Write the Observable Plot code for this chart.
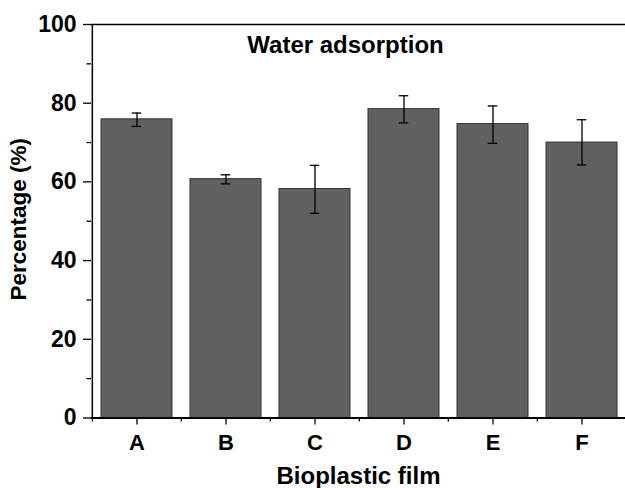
<!DOCTYPE html>
<html>
<head>
<meta charset="utf-8">
<script src="https://cdn.jsdelivr.net/npm/d3@7"></script>
<script src="https://cdn.jsdelivr.net/npm/@observablehq/plot@0.6"></script>
<style>
  html, body { margin: 0; padding: 0; overflow: hidden; background: #fff; }
  #chart svg { display: block; overflow: hidden !important; }
</style>
</head>
<body>
<div id="chart"></div>
<script>
const categories = ["A", "B", "C", "D", "E", "F"];
const values = [75.9, 60.7, 58.2, 78.5, 74.7, 70.0];
const errLow = [74.1, 59.5, 52.0, 75.0, 69.8, 64.3];
const errHigh = [77.5, 61.8, 64.2, 81.9, 79.3, 75.8];
const majorYTicks = [0, 20, 40, 60, 80, 100];
const minorYTicks = [10, 30, 50, 70, 90];
const titleText = "Water adsorption";
const xLabel = "Bioplastic film";
const yLabel = "Percentage (%)";

const data = categories.map((c, i) => ({cat: c, value: values[i], lo: errLow[i], hi: errHigh[i]}));

const W = 625, mL = 91, xEnd = 627;
const step = (xEnd - mL) / categories.length;
const bandwidth = step * 0.8;
const capW = 10;
const font = "'Liberation Sans', Arial, sans-serif";

const chart = Plot.plot({
  width: W,
  height: 488,
  marginLeft: mL,
  marginRight: 0,
  marginTop: 24,
  marginBottom: 70.5,
  style: {fontFamily: font, fontWeight: "bold", color: "#000", background: "#fff", overflow: "hidden"},
  x: {domain: categories, range: [mL, xEnd], paddingInner: 0.2, paddingOuter: 0.1},
  y: {domain: [0, 100]},
  marks: [
    Plot.barY(data, {x: "cat", y: "value", fill: "#616160", stroke: "#333", strokeWidth: 1}),
    Plot.ruleX(data, {x: "cat", y1: "lo", y2: "hi", stroke: "#000", strokeWidth: 1.3}),
    Plot.tickY(data, {x: "cat", y: "lo", stroke: "#000", strokeWidth: 1.3, insetLeft: (bandwidth - capW) / 2, insetRight: (bandwidth - capW) / 2}),
    Plot.tickY(data, {x: "cat", y: "hi", stroke: "#000", strokeWidth: 1.3, insetLeft: (bandwidth - capW) / 2, insetRight: (bandwidth - capW) / 2}),
    Plot.ruleX([categories[0]], {stroke: "#000", strokeWidth: 1.5, dx: -step / 2}),
    Plot.ruleY([100], {stroke: "#000", strokeWidth: 1.5}),
    Plot.ruleY([0], {stroke: "#000", strokeWidth: 2.2}),
    Plot.axisY({ticks: majorYTicks, tickSize: 8, tickPadding: 7, tickFormat: d => String(d), label: null, fontSize: 23, fontWeight: "bold", strokeWidth: 1.3}),
    Plot.axisY({ticks: minorYTicks, tickSize: 4.5, text: null, label: null, strokeWidth: 1.3}),
    Plot.axisX({tickSize: 7, tickPadding: 9, label: null, fontSize: 22, fontWeight: "bold", strokeWidth: 1.3}),
    Plot.axisX({tickSize: 4, text: null, label: null, dx: -step / 2, strokeWidth: 1.3}),
    Plot.text([titleText], {frameAnchor: "top", text: d => d, textAnchor: "middle", lineAnchor: "middle", dx: -13, dy: 21, fontSize: 24, fontWeight: "bold", fill: "#000"}),
    Plot.text([xLabel], {frameAnchor: "bottom", text: d => d, textAnchor: "middle", lineAnchor: "middle", dy: 58, fontSize: 24, fontWeight: "bold", fill: "#000"}),
    Plot.text([yLabel], {frameAnchor: "left", text: d => d, rotate: -90, textAnchor: "middle", lineAnchor: "middle", dx: -72.5, dy: -2, fontSize: 22.5, fontWeight: "bold", fill: "#000"})
  ]
});
document.getElementById("chart").appendChild(chart);
</script>
</body>
</html>
